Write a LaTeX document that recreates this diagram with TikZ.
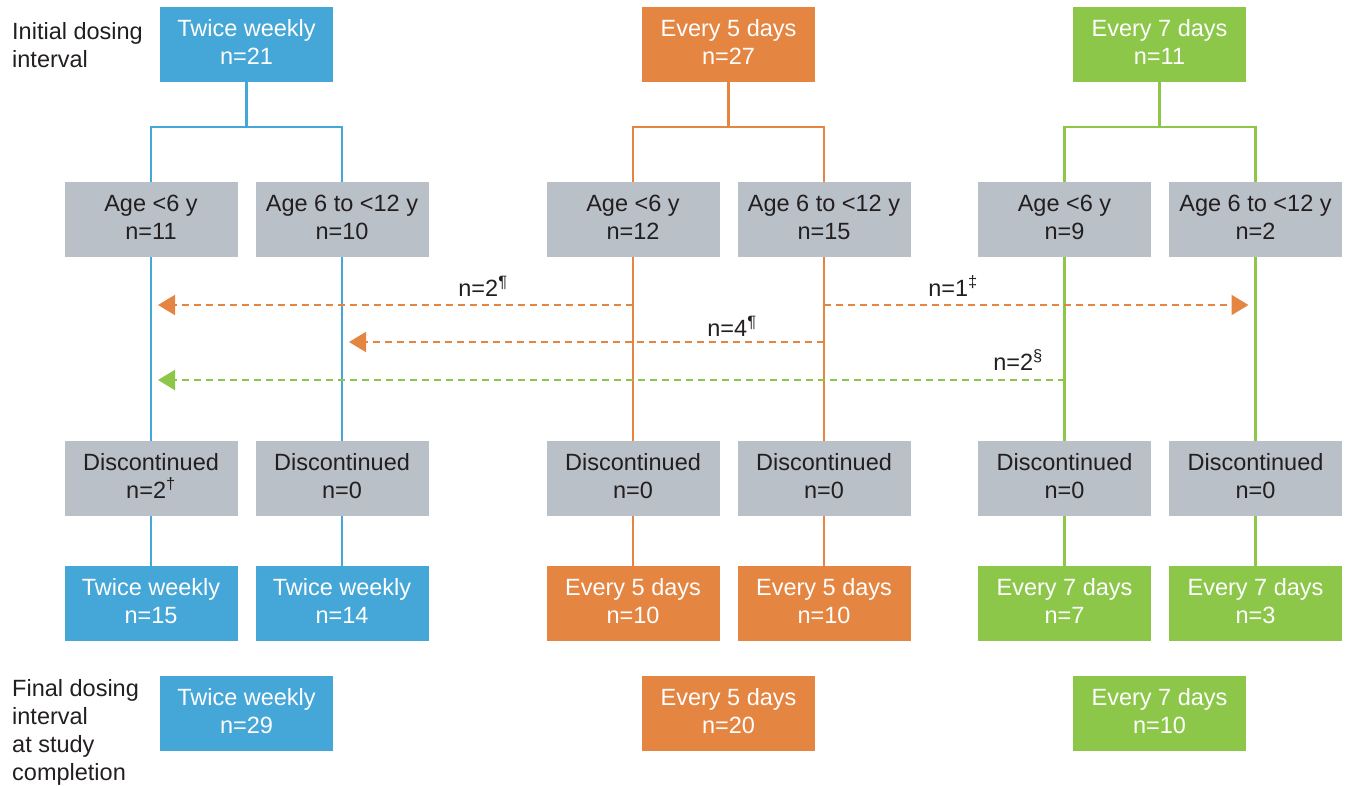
\documentclass[tikz,border=0pt]{standalone}
\usepackage{fontspec}
\setmainfont{Liberation Sans}
\usetikzlibrary{arrows.meta}
\definecolor{cblue}{HTML}{45A6D8}
\definecolor{corange}{HTML}{E58542}
\definecolor{cgreen}{HTML}{8CC74A}
\definecolor{cgray}{HTML}{BAC0C8}
\definecolor{ctext}{HTML}{231F20}
\tikzset{
  box/.style={minimum width=173pt,minimum height=75pt,inner sep=0pt,align=center,draw=none,text height=45pt,text depth=5pt},
  bbox/.style={box,fill=cblue,text=white},
  obox/.style={box,fill=corange,text=white},
  gbox/.style={box,fill=cgreen,text=white},
  grbox/.style={box,fill=cgray,text=ctext},
  bl/.style={draw=cblue,line width=2.5pt},
  ol/.style={draw=corange,line width=2.5pt},
  gl/.style={draw=cgreen,line width=2.5pt},
  darr/.style={line width=2pt,dash pattern=on 7pt off 5pt,shorten >=7pt,-{Triangle[length=17pt,width=20pt]}},
  lab/.style={text=ctext,inner sep=0pt},
  side/.style={text=ctext,align=left,anchor=north west,inner sep=0pt}
}
\begin{document}
\begin{tikzpicture}[x=1pt,y=-1pt,font=\fontsize{23.5}{28}\selectfont]
\useasboundingbox (0,0) rectangle (1348,786);
% side labels
\node[side] (s1) at (12,22) {Initial dosing\\interval};
\node[side] (s2) at (12,679) {Final dosing\\interval\\at study\\completion};
% top boxes
\node[bbox] (tb) at (246.5,44.5) {Twice weekly\\n=21};
\node[obox] (to) at (728.5,44.5) {Every 5 days\\n=27};
\node[gbox] (tg) at (1159.5,44.5) {Every 7 days\\n=11};
% age boxes
\node[grbox] (b1) at (151,219.5) {Age <6 y\\n=11};
\node[grbox] (b2) at (342,219.5) {Age 6 to <12 y\\n=10};
\node[grbox] (o1) at (633,219.5) {Age <6 y\\n=12};
\node[grbox] (o2) at (824,219.5) {Age 6 to <12 y\\n=15};
\node[grbox] (g1) at (1064.5,219.5) {Age <6 y\\n=9};
\node[grbox] (g2) at (1255.5,219.5) {Age 6 to <12 y\\n=2};
% discontinued
\node[grbox] (d1) at (151,478.5) {Discontinued\\n=2\textsuperscript{†}};
\node[grbox] (d2) at (342,478.5) {Discontinued\\n=0};
\node[grbox] (d3) at (633,478.5) {Discontinued\\n=0};
\node[grbox] (d4) at (824,478.5) {Discontinued\\n=0};
\node[grbox] (d5) at (1064.5,478.5) {Discontinued\\n=0};
\node[grbox] (d6) at (1255.5,478.5) {Discontinued\\n=0};
% per-age final
\node[bbox] (f1) at (151,603.5) {Twice weekly\\n=15};
\node[bbox] (f2) at (342,603.5) {Twice weekly\\n=14};
\node[obox] (f3) at (633,603.5) {Every 5 days\\n=10};
\node[obox] (f4) at (824,603.5) {Every 5 days\\n=10};
\node[gbox] (f5) at (1064.5,603.5) {Every 7 days\\n=7};
\node[gbox] (f6) at (1255.5,603.5) {Every 7 days\\n=3};
% final boxes
\node[bbox] (zb) at (246.5,713.5) {Twice weekly\\n=29};
\node[obox] (zo) at (728.5,713.5) {Every 5 days\\n=20};
\node[gbox] (zg) at (1159.5,713.5) {Every 7 days\\n=10};
% tree connectors
\draw[bl] (tb.south) -- ++(0,45) -| (b1.north);
\draw[bl] (tb.south) -- ++(0,45) -| (b2.north);
\draw[ol] (to.south) -- ++(0,45) -| (o1.north);
\draw[ol] (to.south) -- ++(0,45) -| (o2.north);
\draw[gl] (tg.south) -- ++(0,45) -| (g1.north);
\draw[gl] (tg.south) -- ++(0,45) -| (g2.north);
\draw[bl] (b1.south) -- (d1.north) (d1.south) -- (f1.north);
\draw[bl] (b2.south) -- (d2.north) (d2.south) -- (f2.north);
\draw[ol] (o1.south) -- (d3.north) (d3.south) -- (f3.north);
\draw[ol] (o2.south) -- (d4.north) (d4.south) -- (f4.north);
\draw[gl] (g1.south) -- (d5.north) (d5.south) -- (f5.north);
\draw[gl] (g2.south) -- (d6.north) (d6.south) -- (f6.north);
% dashed transfer arrows
\coordinate (r1) at (0,305);
\coordinate (r2) at (0,342);
\coordinate (r3) at (0,380);
\draw[darr,corange] (o1.south |- r1) -- (b1.south |- r1);
\draw[darr,corange] (o2.south |- r1) -- (g2.south |- r1);
\draw[darr,corange] (o2.south |- r2) -- (b2.south |- r2);
\draw[darr,cgreen] (g1.south |- r3) -- (b1.south |- r3);
\node[lab] (l1) at (483,286) {n=2\textsuperscript{¶}};
\node[lab] (l2) at (953,286) {n=1\textsuperscript{‡}};
\node[lab] (l3) at (732,326) {n=4\textsuperscript{¶}};
\node[lab] (l4) at (1018,360) {n=2\textsuperscript{§}};
\end{tikzpicture}
\end{document}
